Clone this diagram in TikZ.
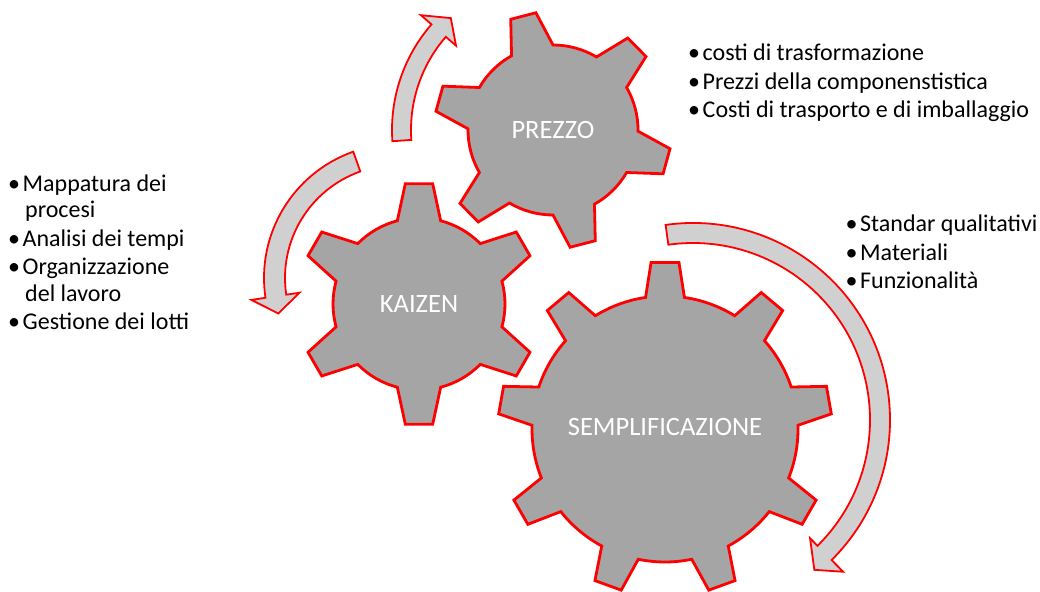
\documentclass[tikz,border=0pt]{standalone}
\usepackage{fontspec}
\setmainfont{Carlito}
\definecolor{gearfill}{RGB}{165,165,165}
\definecolor{turnfill}{RGB}{208,208,208}
\definecolor{redline}{RGB}{255,0,0}

% center, teeth, body r, tip r, base half angle, tip half angle, first tooth
\newcommand{\drawgear}[7]{%
  \pgfmathsetmacro{\gstep}{360/#2}
  \pgfmathtruncatemacro{\glast}{#2-1}
  \begin{scope}[shift={#1}]
    \draw[gear] ({#7-#5}:#3pt)
    \foreach \i in {0,...,\glast} {
      -- ({#7+\i*\gstep-#6}:#4pt) -- ({#7+\i*\gstep+#6}:#4pt)
      -- ({#7+\i*\gstep+#5}:#3pt)
      arc[start angle={#7+\i*\gstep+#5}, end angle={#7+(\i+1)*\gstep-#5}, radius=#3pt]
    } -- cycle;
  \end{scope}
}

% center, r in, r out, from, head, tip, barb in, barb out, tip r
\newcommand{\drawturn}[9]{%
  \begin{scope}[shift={#1}]
    \draw[turn] (#4:#3pt) arc[start angle=#4, end angle=#5, radius=#3pt]
    -- (#5:#8pt) -- (#6:#9pt) -- (#5:#7pt) -- (#5:#2pt)
    arc[start angle=#5, end angle=#4, radius=#2pt] -- cycle;
  \end{scope}
}

\newcommand{\bul}{\makebox[14.5pt][l]{•}}

\begin{document}
\begin{tikzpicture}[x=1pt,y=1pt,line join=miter,
  gear/.style={fill=gearfill,draw=redline,line width=2.8pt},
  turn/.style={fill=turnfill,draw=redline,line width=1.8pt},
  label/.style={text=white,font=\fontsize{26.5}{30}\selectfont,inner sep=0pt},
  list/.style={align=left,anchor=base west,inner sep=0pt,
    font=\fontsize{24}{26.5}\selectfont}]
\useasboundingbox (0,0) rectangle (1040,591);

\coordinate (cPrezzo) at (553,461);
\coordinate (cKaizen) at (419,287);
\coordinate (cSempl) at (665,162);

% gears
\drawgear{(cPrezzo)}{6}{85}{118.5}{14.6}{6.3}{-15.4}
\drawgear{(cKaizen)}{6}{86}{121}{14.6}{6.5}{90}
\drawgear{(cSempl)}{9}{133}{167}{8.4}{4.8}{90}

% circular arrows
\drawturn{(cPrezzo)}{142}{161}{184}{139}{132.4}{128.5}{175}{151.5}
\drawturn{(398,313)}{113}{134}{109.5}{188.5}{196.5}{99.6}{148.3}{124.8}
\drawturn{(693,171)}{177}{197}{98}{-45.3}{-51}{166.4}{213.5}{192.8}

% gear labels
\node[label] (prezzo) at (cPrezzo) {PREZZO};
\node[label] (kaizen) at (cKaizen) {KAIZEN};
\node[label] (sempl) at (665,164) {SEMPLIFICAZIONE};

% lists (base = last line)
\node[list] (costi) at (688,473) {\bul costi di trasformazione\\[2pt]
  \bul Prezzi della componenstistica\\[2pt]
  \bul Costi di trasporto e di imballaggio};
\node[list] (qualita) at (845.5,302) {\bul Standar qualitativi\\[2pt]
  \bul Materiali\\[2pt]
  \bul Funzionalità};
\node[list] (processi) at (8,261) {\bul Mappatura dei\\
  \hspace*{17pt}procesi\\[2pt]
  \bul Analisi dei tempi\\[2pt]
  \bul Organizzazione\\
  \hspace*{17pt}del lavoro\\[2pt]
  \bul Gestione dei lotti};
\end{tikzpicture}
\end{document}
